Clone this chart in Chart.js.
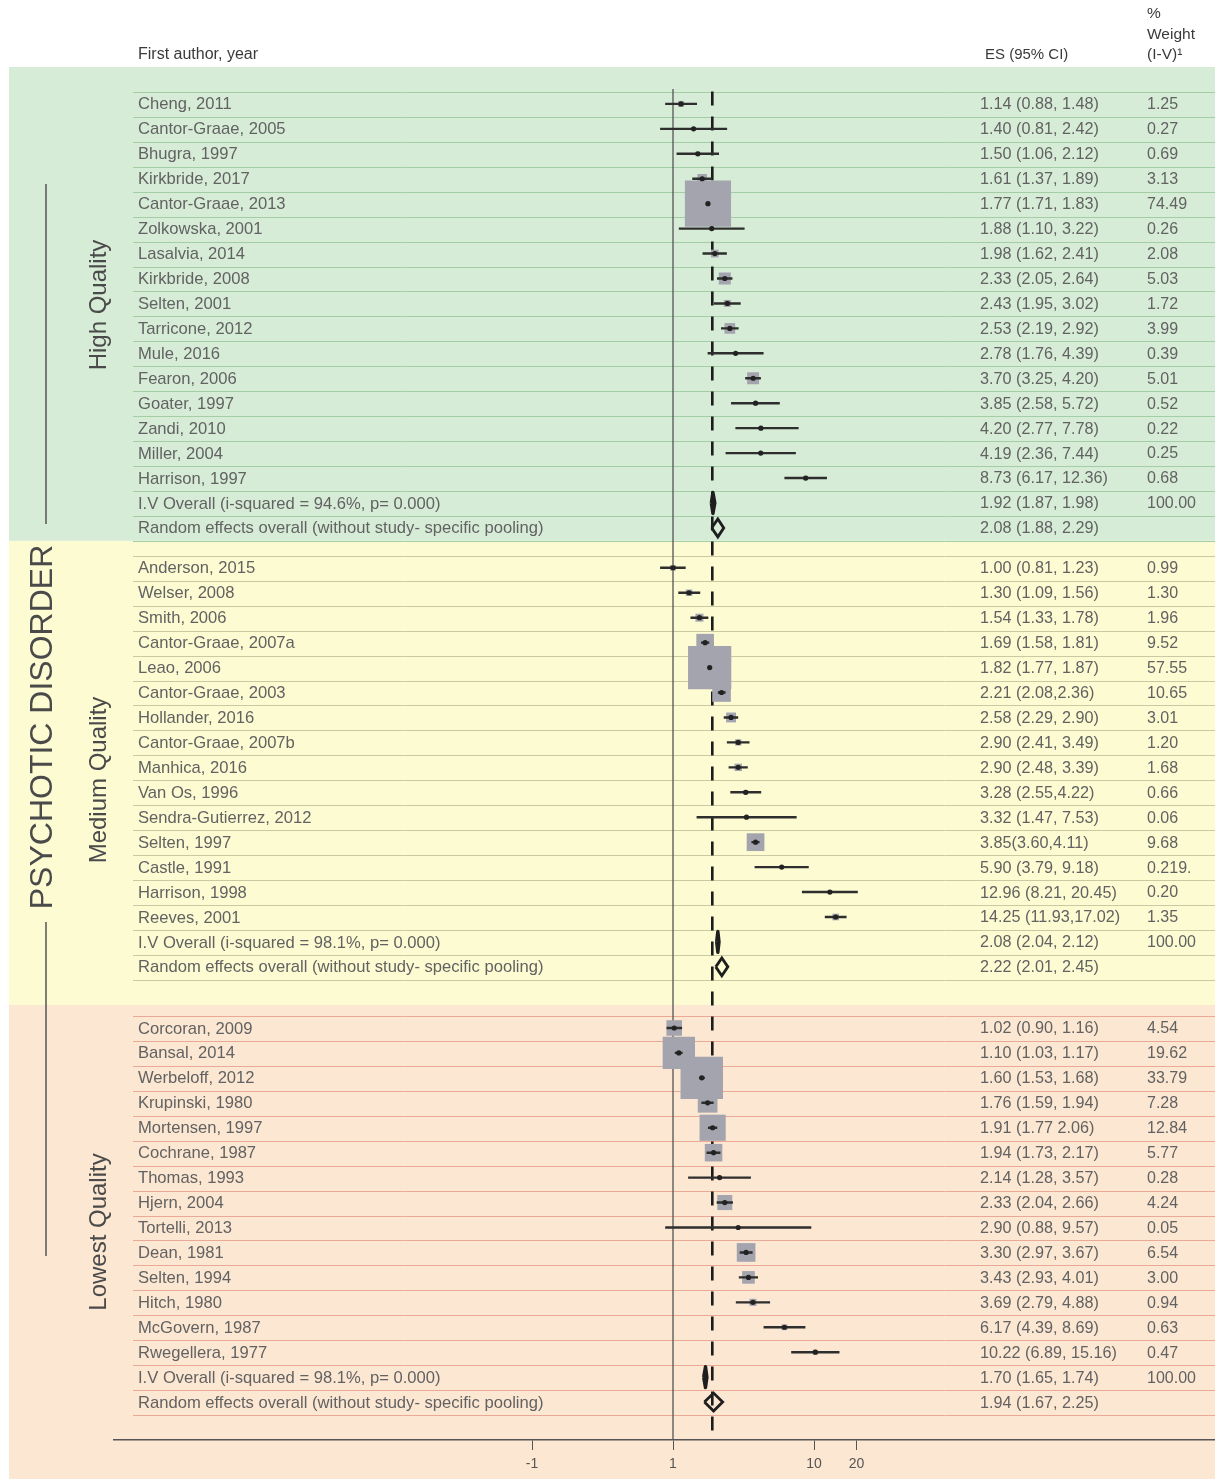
<!DOCTYPE html>
<html>
<head>
<meta charset="utf-8">
<script src="https://cdn.jsdelivr.net/npm/chart.js@4.4.1/dist/chart.umd.min.js"></script>
<style>
html,body{margin:0;padding:0;background:#fff;}
#wrap{width:1215px;height:1479px;position:relative;}
</style>
</head>
<body>
<div id="wrap"><canvas id="c"></canvas></div>
<script>
// ---------------- DATA ----------------
const highStudies = ["Cheng, 2011","Cantor-Graae, 2005","Bhugra, 1997","Kirkbride, 2017","Cantor-Graae, 2013","Zolkowska, 2001","Lasalvia, 2014","Kirkbride, 2008","Selten, 2001","Tarricone, 2012","Mule, 2016","Fearon, 2006","Goater, 1997","Zandi, 2010","Miller, 2004","Harrison, 1997"];
const highES     = [1.14,1.40,1.50,1.61,1.77,1.88,1.98,2.33,2.43,2.53,2.78,3.70,3.85,4.20,4.19,8.73];
const highLow    = [0.88,0.81,1.06,1.37,1.71,1.10,1.62,2.05,1.95,2.19,1.76,3.25,2.58,2.77,2.36,6.17];
const highHigh   = [1.48,2.42,2.12,1.89,1.83,3.22,2.41,2.64,3.02,2.92,4.39,4.20,5.72,7.78,7.44,12.36];
const highWeight = [1.25,0.27,0.69,3.13,74.49,0.26,2.08,5.03,1.72,3.99,0.39,5.01,0.52,0.22,0.25,0.68];
const highESText = ["1.14 (0.88, 1.48)","1.40 (0.81, 2.42)","1.50 (1.06, 2.12)","1.61 (1.37, 1.89)","1.77 (1.71, 1.83)","1.88 (1.10, 3.22)","1.98 (1.62, 2.41)","2.33 (2.05, 2.64)","2.43 (1.95, 3.02)","2.53 (2.19, 2.92)","2.78 (1.76, 4.39)","3.70 (3.25, 4.20)","3.85 (2.58, 5.72)","4.20 (2.77, 7.78)","4.19 (2.36, 7.44)","8.73 (6.17, 12.36)"];
const highWeightText = ["1.25","0.27","0.69","3.13","74.49","0.26","2.08","5.03","1.72","3.99","0.39","5.01","0.52","0.22","0.25","0.68"];
const highOverallLabels = ["I.V Overall (i-squared = 94.6%, p= 0.000)","Random effects overall (without study- specific pooling)"];
const highOverallES   = [1.92, 2.08];
const highOverallLow  = [1.87, 1.88];
const highOverallHigh = [1.98, 2.29];
const highOverallText = ["1.92 (1.87, 1.98)","2.08 (1.88, 2.29)"];
const highOverallWeight = ["100.00",""];

const mediumStudies = ["Anderson, 2015","Welser, 2008","Smith, 2006","Cantor-Graae, 2007a","Leao, 2006","Cantor-Graae, 2003","Hollander, 2016","Cantor-Graae, 2007b","Manhica, 2016","Van Os, 1996","Sendra-Gutierrez, 2012","Selten, 1997","Castle, 1991","Harrison, 1998","Reeves, 2001"];
const mediumES     = [1.00,1.30,1.54,1.69,1.82,2.21,2.58,2.90,2.90,3.28,3.32,3.85,5.90,12.96,14.25];
const mediumLow    = [0.81,1.09,1.33,1.58,1.77,2.08,2.29,2.41,2.48,2.55,1.47,3.60,3.79,8.21,11.93];
const mediumHigh   = [1.23,1.56,1.78,1.81,1.87,2.36,2.90,3.49,3.39,4.22,7.53,4.11,9.18,20.45,17.02];
const mediumWeight = [0.99,1.30,1.96,9.52,57.55,10.65,3.01,1.20,1.68,0.66,0.06,9.68,0.219,0.20,1.35];
const mediumESText = ["1.00 (0.81, 1.23)","1.30 (1.09, 1.56)","1.54 (1.33, 1.78)","1.69 (1.58, 1.81)","1.82 (1.77, 1.87)","2.21 (2.08,2.36)","2.58 (2.29, 2.90)","2.90 (2.41, 3.49)","2.90 (2.48, 3.39)","3.28 (2.55,4.22)","3.32 (1.47, 7.53)","3.85(3.60,4.11)","5.90 (3.79, 9.18)","12.96 (8.21, 20.45)","14.25 (11.93,17.02)"];
const mediumWeightText = ["0.99","1.30","1.96","9.52","57.55","10.65","3.01","1.20","1.68","0.66","0.06","9.68","0.219.","0.20","1.35"];
const mediumOverallLabels = ["I.V Overall (i-squared = 98.1%, p= 0.000)","Random effects overall (without study- specific pooling)"];
const mediumOverallES   = [2.08, 2.22];
const mediumOverallLow  = [2.04, 2.01];
const mediumOverallHigh = [2.12, 2.45];
const mediumOverallText = ["2.08 (2.04, 2.12)","2.22 (2.01, 2.45)"];
const mediumOverallWeight = ["100.00",""];

const lowStudies = ["Corcoran, 2009","Bansal, 2014","Werbeloff, 2012","Krupinski, 1980","Mortensen, 1997","Cochrane, 1987","Thomas, 1993","Hjern, 2004","Tortelli, 2013","Dean, 1981","Selten, 1994","Hitch, 1980","McGovern, 1987","Rwegellera, 1977"];
const lowES     = [1.02,1.10,1.60,1.76,1.91,1.94,2.14,2.33,2.90,3.30,3.43,3.69,6.17,10.22];
const lowLow    = [0.90,1.03,1.53,1.59,1.77,1.73,1.28,2.04,0.88,2.97,2.93,2.79,4.39,6.89];
const lowHigh   = [1.16,1.17,1.68,1.94,2.06,2.17,3.57,2.66,9.57,3.67,4.01,4.88,8.69,15.16];
const lowWeight = [4.54,19.62,33.79,7.28,12.84,5.77,0.28,4.24,0.05,6.54,3.00,0.94,0.63,0.47];
const lowESText = ["1.02 (0.90, 1.16)","1.10 (1.03, 1.17)","1.60 (1.53, 1.68)","1.76 (1.59, 1.94)","1.91 (1.77 2.06)","1.94 (1.73, 2.17)","2.14 (1.28, 3.57)","2.33 (2.04, 2.66)","2.90 (0.88, 9.57)","3.30 (2.97, 3.67)","3.43 (2.93, 4.01)","3.69 (2.79, 4.88)","6.17 (4.39, 8.69)","10.22 (6.89, 15.16)"];
const lowWeightText = ["4.54","19.62","33.79","7.28","12.84","5.77","0.28","4.24","0.05","6.54","3.00","0.94","0.63","0.47"];
const lowOverallLabels = ["I.V Overall (i-squared = 98.1%, p= 0.000)","Random effects overall (without study- specific pooling)"];
const lowOverallES   = [1.70, 1.94];
const lowOverallLow  = [1.65, 1.67];
const lowOverallHigh = [1.74, 2.25];
const lowOverallText = ["1.70 (1.65, 1.74)","1.94 (1.67, 2.25)"];
const lowOverallWeight = ["100.00",""];

const sectionNames = ["High Quality","Medium Quality","Lowest Quality"];
const groupTitle = "PSYCHOTIC DISORDER";
const xTickValues = [0.1, 1, 10, 20];
const xTickLabels = ["-1", "1", "10", "20"];
const nullValue = 1;
const referenceValue = 1.9;

// ---------------- LAYOUT / STYLE ----------------
const FONT = '"Liberation Sans", Arial, Helvetica, sans-serif';
const sections = [
  {name:sectionNames[0], studies:highStudies, es:highES, lo:highLow, hi:highHigh, w:highWeight, esText:highESText, wText:highWeightText,
   ovLabels:highOverallLabels, ovES:highOverallES, ovLo:highOverallLow, ovHi:highOverallHigh, ovText:highOverallText, ovW:highOverallWeight,
   start:0, bandTop:-1.48, boxK:5.35, band:'#d6ecd7', line:'#a3cda5', labelY:305, ivFilled:false},
  {name:sectionNames[1], studies:mediumStudies, es:mediumES, lo:mediumLow, hi:mediumHigh, w:mediumWeight, esText:mediumESText, wText:mediumWeightText,
   ovLabels:mediumOverallLabels, ovES:mediumOverallES, ovLo:mediumOverallLow, ovHi:mediumOverallHigh, ovText:mediumOverallText, ovW:mediumOverallWeight,
   start:18.6, bandTop:17.52, boxK:5.7, band:'#fdfbd2', line:'#c9c9a2', labelY:780, ivFilled:false},
  {name:sectionNames[2], studies:lowStudies, es:lowES, lo:lowLow, hi:lowHigh, w:lowWeight, esText:lowESText, wText:lowWeightText,
   ovLabels:lowOverallLabels, ovES:lowOverallES, ovLo:lowOverallLow, ovHi:lowOverallHigh, ovText:lowOverallText, ovW:lowOverallWeight,
   start:37.05, bandTop:36.13, boxK:7.3, band:'#fce7d2', line:'#eaa996', labelY:1232, ivFilled:true}
];
const Y_MIN = -1.48, Y_MAX = 53.57;
const AREA_LEFT = 114, PX_ONE = 673, PX_DECADE = 141, CANVAS_W = 1215;
const X_MIN = Math.pow(10, (AREA_LEFT - PX_ONE) / PX_DECADE);
const X_MAX = Math.pow(10, (CANVAS_W - PX_ONE) / PX_DECADE);
const GAP = {x: NaN, y: NaN};

// build datasets from the arrays
const boxPts = [], boxRadii = [], dotPts = [], ciPts = [], ivPts = [], ivFillPts = [], rePts = [];
sections.forEach(sec => {
  sec.studies.forEach((s, i) => {
    const r = sec.start + i;
    boxPts.push({x: sec.es[i], y: r});
    boxRadii.push(sec.boxK * Math.sqrt(sec.w[i]) / Math.SQRT2);
    dotPts.push({x: sec.es[i], y: r});
    ciPts.push({x: sec.lo[i], y: r}, {x: sec.hi[i], y: r}, GAP);
  });
  const n = sec.studies.length;
  const diamond = (k, hd) => {
    const r = sec.start + n + k;
    return [{x: sec.ovLo[k], y: r}, {x: sec.ovES[k], y: r - hd}, {x: sec.ovHi[k], y: r},
            {x: sec.ovES[k], y: r + hd}, {x: sec.ovLo[k], y: r}];
  };
  if (sec.ivFilled) ivFillPts.push(...diamond(0, 0.42));
  else ivPts.push(...diamond(0, 0.42), GAP);
  rePts.push(...diamond(1, 0.36), GAP);
});

const bgPlugin = {
  id: 'forestBg',
  beforeDraw(chart) {
    const ctx = chart.ctx, ys = chart.scales.y;
    ctx.save();
    sections.forEach((sec, si) => {
      const top = ys.getPixelForValue(sec.bandTop);
      const bot = si < sections.length - 1 ? ys.getPixelForValue(sections[si + 1].bandTop) : chart.height;
      ctx.fillStyle = sec.band;
      ctx.fillRect(9, top, CANVAS_W - 9, bot - top);
    });
    sections.forEach(sec => {
      const n = sec.studies.length + sec.ovLabels.length;
      ctx.strokeStyle = sec.line;
      ctx.lineWidth = 1;
      for (let i = 0; i <= n; i++) {
        const y = Math.round(ys.getPixelForValue(sec.start + i - 0.48)) + 0.5;
        ctx.beginPath(); ctx.moveTo(133, y); ctx.lineTo(CANVAS_W, y); ctx.stroke();
      }
    });
    ctx.restore();
  },
  afterDraw(chart) {
    const ctx = chart.ctx, ys = chart.scales.y;
    ctx.save();
    // header
    ctx.fillStyle = '#3a3a3a';
    ctx.textBaseline = 'middle';
    ctx.textAlign = 'left';
    ctx.font = '16px ' + FONT;
    ctx.fillText('First author, year', 138, 55);
    ctx.font = '15px ' + FONT;
    ctx.fillText('ES (95% CI)', 985, 55);
    ctx.font = '15.5px ' + FONT;
    ctx.fillText('%', 1147, 14);
    ctx.fillText('Weight', 1147, 35);
    ctx.fillText('(I-V)\u00B9', 1147, 55);
    // rows
    ctx.fillStyle = '#626262';
    sections.forEach(sec => {
      const labels = sec.studies.concat(sec.ovLabels);
      const esT = sec.esText.concat(sec.ovText);
      const wT = sec.wText.concat(sec.ovW);
      labels.forEach((lab, i) => {
        const y = ys.getPixelForValue(sec.start + i) + 1;
        ctx.font = '16.6px ' + FONT;
        ctx.fillText(lab, 138, y);
        ctx.font = '16.2px ' + FONT;
        ctx.fillText(esT[i], 980, y);
        ctx.font = '16px ' + FONT;
        ctx.fillText(wT[i], 1147, y);
      });
    });
    // rotated labels
    ctx.fillStyle = '#4a4a4a';
    ctx.textAlign = 'center';
    const rot = (t, x, y, font) => { ctx.save(); ctx.translate(x, y); ctx.rotate(-Math.PI / 2); ctx.font = font; ctx.fillText(t, 0, 0); ctx.restore(); };
    rot(groupTitle, 43, 727, '32px ' + FONT);
    sections.forEach(sec => rot(sec.name, 99, sec.labelY, '24px ' + FONT));
    ctx.strokeStyle = '#555';
    ctx.lineWidth = 1.5;
    ctx.beginPath(); ctx.moveTo(46, 184); ctx.lineTo(46, 524); ctx.stroke();
    ctx.beginPath(); ctx.moveTo(46, 922); ctx.lineTo(46, 1256); ctx.stroke();
    ctx.restore();
  }
};

new Chart(document.getElementById('c'), {
  type: 'scatter',
  data: {
    datasets: [
      {type: 'line', label: 'null', data: [{x: nullValue, y: -0.6}, {x: nullValue, y: Y_MAX}],
       borderColor: '#555', borderWidth: 1.3, pointRadius: 0, order: 10},
      {type: 'line', label: 'ref', data: [{x: referenceValue, y: -0.5}, {x: referenceValue, y: Y_MAX}],
       borderColor: '#1c1c1c', borderWidth: 2.6, borderDash: [14, 11], pointRadius: 0, order: 9},
      {label: 'boxes', data: boxPts, pointStyle: 'rect', pointRadius: boxRadii, pointBorderWidth: 0,
       backgroundColor: '#a3a4ae', borderColor: 'rgba(0,0,0,0)', order: 5},
      {type: 'line', label: 'ci', data: ciPts, borderColor: '#2e2e2e', borderWidth: 2.4, pointRadius: 0, spanGaps: false, order: 4},
      {label: 'dots', data: dotPts, pointStyle: 'circle', pointRadius: 2.6, pointBorderWidth: 0,
       backgroundColor: '#222', order: 3},
      {type: 'line', label: 'iv', data: ivPts, borderColor: '#1e1e1e', borderWidth: 3.4, borderJoinStyle: 'round', pointRadius: 0, spanGaps: false, fill: false, order: 2},
      {type: 'line', label: 'ivFilled', data: ivFillPts, borderColor: '#1e1e1e', backgroundColor: '#1e1e1e', borderWidth: 3.4, borderJoinStyle: 'round', pointRadius: 0, fill: 'shape', order: 2},
      {type: 'line', label: 're', data: rePts, borderColor: '#1e1e1e', borderWidth: 2.8, pointRadius: 0, spanGaps: false, fill: false, order: 2}
    ]
  },
  options: {
    responsive: true,
    maintainAspectRatio: false,
    animation: false,
    events: [],
    layout: {autoPadding: false, padding: {top: 67, left: AREA_LEFT, right: 0, bottom: 0}},
    plugins: {legend: {display: false}, tooltip: {enabled: false}},
    scales: {
      x: {
        type: 'logarithmic', position: 'bottom', min: X_MIN, max: X_MAX,
        afterBuildTicks: s => { s.ticks = xTickValues.map(v => ({value: v})); },
        afterFit: s => { s.height = 39; s.paddingLeft = 0; s.paddingRight = 0; },
        ticks: {autoSkip: false, maxRotation: 0, padding: 6, color: '#555', font: {size: 14, family: FONT},
                callback: (v, i) => xTickLabels[i]},
        grid: {drawOnChartArea: false, drawTicks: true, tickLength: 10, color: '#555', lineWidth: 1},
        border: {display: true, color: '#555', width: 1.5}
      },
      y: {type: 'linear', reverse: true, min: Y_MIN, max: Y_MAX, display: false}
    }
  },
  plugins: [bgPlugin]
});
</script>
</body>
</html>
